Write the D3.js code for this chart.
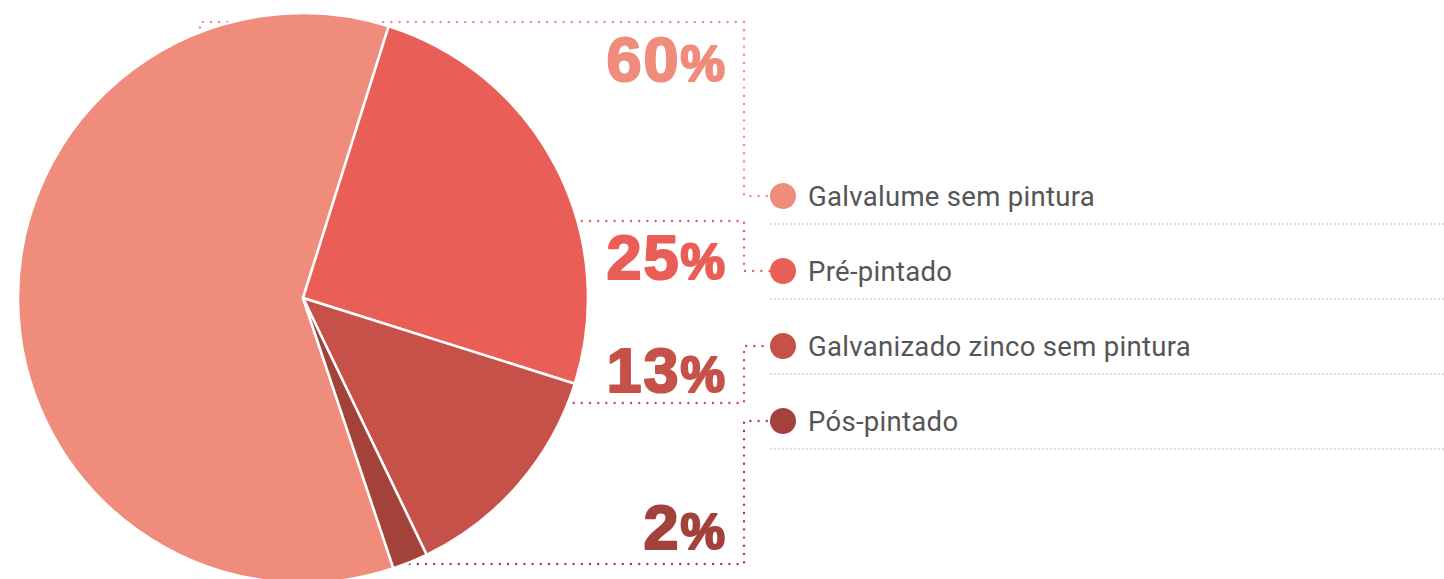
<!DOCTYPE html>
<html>
<head>
<meta charset="utf-8">
<script src="https://cdn.jsdelivr.net/npm/d3@7"></script>
<style>
  html, body { margin: 0; padding: 0; background: #fff; }
  svg { display: block; }
</style>
</head>
<body>
<div id="chart"></div>
<script>
// chart data
var categories = ["Galvalume sem pintura", "Pré-pintado", "Galvanizado zinco sem pintura", "Pós-pintado"];
var values = [60, 25, 13, 2];
var colors = ["#F08C7B", "#E95F57", "#C65149", "#A3413B"];

var width = 1444;
var height = 579;

var cx = 303, cy = 298, radius = 285;

var svg = d3.select("#chart").append("svg")
    .attr("width", width)
    .attr("height", height);

var data = categories.map(function(c, i) {
    return { name: c, value: values[i], color: colors[i] };
});

// legend rows
var legendY = d3.scalePoint()
    .domain(categories)
    .range([196, 421]);

var legendX = 783;

// connectors sit behind the pie so the pie hides the part inside it
var conn = svg.append("g");

// where each connector leaves the chart (horizontal level) and the label baseline
var connectorY = [22, 221, 403, 564];
var labelY = [81, 279, 392, 549];
var elbowX = 744;

data.forEach(function(d, i) {
    var ly = legendY(d.name);
    var path;
    if (i === 0) {
        path = "M200," + cy + "V" + connectorY[i] + "H" + elbowX + "V" + ly + "H" + (legendX - 13);
    } else {
        path = "M" + cx + "," + connectorY[i] + "H" + elbowX + "V" + ly + "H" + (legendX - 13);
    }
    conn.append("path")
        .attr("d", path)
        .attr("fill", "none")
        .attr("stroke", d.color)
        .attr("stroke-width", 2.4)
        .attr("stroke-linecap", "round")
        .attr("stroke-dasharray", "0,8.2");
});

var pie = d3.pie()
    .sort(null)
    .value(function(d) { return d.value; })
    .startAngle(161.5 * Math.PI / 180)
    .endAngle((161.5 + 360) * Math.PI / 180);

var arc = d3.arc()
    .innerRadius(0)
    .outerRadius(radius);

var g = svg.append("g")
    .attr("transform", "translate(" + cx + "," + cy + ")");

g.selectAll("path")
    .data(pie(data))
    .enter().append("path")
    .attr("d", arc)
    .attr("fill", function(d) { return d.data.color; })
    .attr("stroke", "#fff")
    .attr("stroke-width", 2.5)
    .attr("stroke-linejoin", "round");

// big percentage labels
var pct = svg.selectAll("text.pct")
    .data(data)
    .enter().append("text")
    .attr("class", "pct")
    .attr("x", 725)
    .attr("y", function(d, i) { return labelY[i]; })
    .attr("text-anchor", "end")
    .style("font-family", "'Liberation Sans', Arial, sans-serif")
    .style("font-weight", "900")
    .style("font-size", "63px")
    .style("fill", function(d) { return d.color; })
    .style("stroke", function(d) { return d.color; })
    .style("stroke-width", "2.2px")
    .style("stroke-linejoin", "round");

pct.append("tspan")
    .attr("letter-spacing", "2")
    .text(function(d) { return d.value; });

pct.append("tspan")
    .style("font-size", "50px")
    .text("%");

// legend
var legend = svg.selectAll("g.legend")
    .data(data)
    .enter().append("g")
    .attr("class", "legend")
    .attr("transform", function(d) { return "translate(0," + legendY(d.name) + ")"; });

legend.append("line")
    .attr("x1", 770)
    .attr("x2", width)
    .attr("y1", 28)
    .attr("y2", 28)
    .attr("stroke", "#c4c4c4")
    .attr("stroke-width", 1.6)
    .attr("stroke-dasharray", "1.6,2.4");

legend.append("circle")
    .attr("cx", legendX)
    .attr("cy", 0)
    .attr("r", 13)
    .attr("fill", function(d) { return d.color; });

legend.append("text")
    .attr("x", 808)
    .attr("y", 0)
    .attr("dy", "0.38em")
    .style("font-family", "Roboto, sans-serif")
    .style("font-size", "27.5px")
    .style("letter-spacing", "0.3px")
    .style("fill", "#555")
    .text(function(d) { return d.name; });
</script>
</body>
</html>
